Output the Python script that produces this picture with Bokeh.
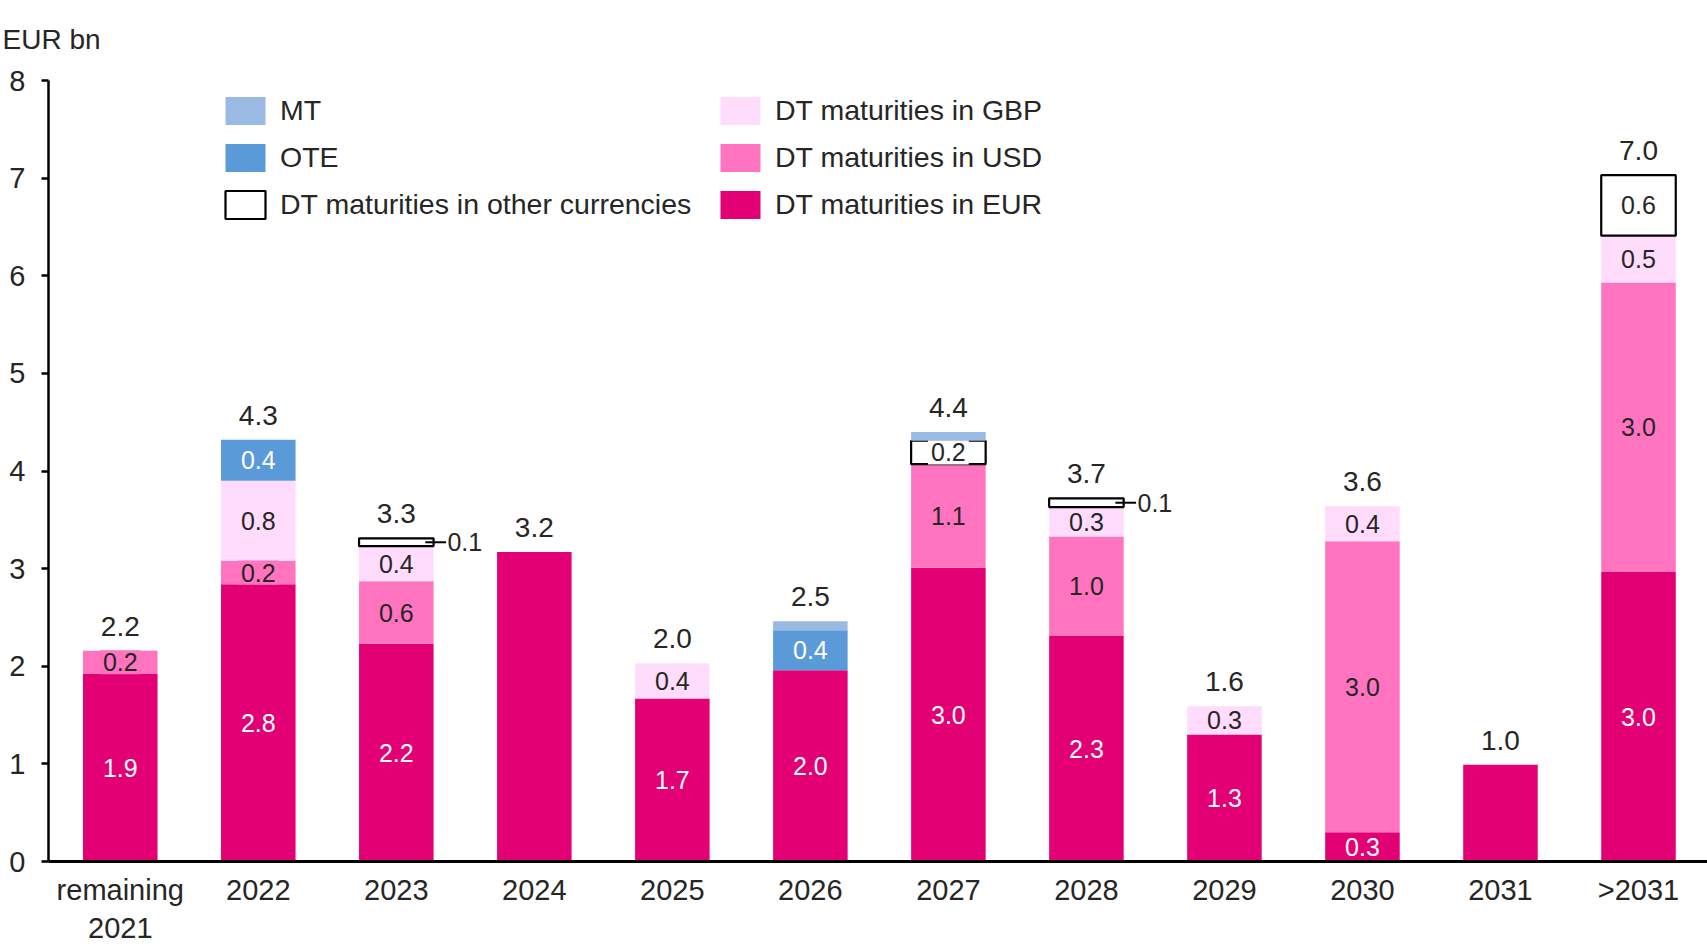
from bokeh.plotting import figure
from bokeh.models import Range1d, FixedTicker, Legend, LegendItem, ColumnDataSource
from bokeh.embed import file_html
from bokeh.resources import INLINE
from bokeh.core.properties import value

# ---------------- data (EUR bn) ----------------
categories = ["remaining\n2021", "2022", "2023", "2024", "2025", "2026",
              "2027", "2028", "2029", "2030", "2031", ">2031"]
eur   = [1.92, 2.84, 2.23, 3.17, 1.67, 1.96, 3.01, 2.31, 1.30, 0.30, 0.99, 2.97]
usd   = [0.24, 0.24, 0.64, 0.00, 0.00, 0.00, 1.06, 1.02, 0.00, 2.98, 0.00, 2.96]
gbp   = [0.00, 0.82, 0.36, 0.00, 0.36, 0.00, 0.00, 0.30, 0.29, 0.36, 0.00, 0.48]
other = [0.00, 0.00, 0.08, 0.00, 0.00, 0.00, 0.24, 0.09, 0.00, 0.00, 0.00, 0.62]
ote   = [0.00, 0.42, 0.00, 0.00, 0.00, 0.41, 0.00, 0.00, 0.00, 0.00, 0.00, 0.00]
mt    = [0.00, 0.00, 0.00, 0.00, 0.00, 0.09, 0.09, 0.00, 0.00, 0.00, 0.00, 0.00]

series_names = ["DT maturities in EUR", "DT maturities in USD", "DT maturities in GBP",
                "DT maturities in other currencies", "OTE", "MT"]
series_vals = [eur, usd, gbp, other, ote, mt]
unit_label = "EUR bn"

# ---------------- styles ----------------
FONT = "Liberation Sans"
TXT = "#262626"
fills = ["#e20074", "#ff73bf", "#ffdcfb", "#ffffff", "#5b9ad8", "#99bbe3"]
lines = [None, None, None, "#000000", None, None]
label_colors = ["#ffffff", TXT, TXT, TXT, "#ffffff", None]
BAR_W = 0.54

p = figure(width=1707, height=946, output_backend="svg", toolbar_location=None,
           title=unit_label,
           x_range=Range1d(-0.52, 11.50), y_range=Range1d(0, 8),
           min_border_left=48, min_border_right=0, min_border_top=80, min_border_bottom=84)
p.title.align = "left"
p.title.vertical_align = "top"
p.title.offset = -46
p.title.standoff = 47
p.title.text_font = FONT
p.title.text_font_size = "28px"
p.title.text_font_style = "normal"
p.title.text_color = TXT
p.outline_line_color = None
p.xgrid.visible = False
p.ygrid.visible = False

n = len(categories)
xs = list(range(n))
bottoms = [0.0] * n
renderers = {}
in_x, in_y, in_t, in_c, in_bg = [], [], [], [], []
out_x, out_y, out_t = [], [], []
lead_x0, lead_x1, lead_y = [], [], []
nseg = [sum(1 for s in series_vals if s[i] > 0) for i in range(n)]

for k, (name, vals) in enumerate(zip(series_names, series_vals)):
    idx = [i for i in range(n) if vals[i] > 0]
    src = ColumnDataSource(dict(x=[xs[i] for i in idx],
                                bottom=[bottoms[i] for i in idx],
                                top=[bottoms[i] + vals[i] for i in idx]))
    r = p.vbar(x="x", width=BAR_W, bottom="bottom", top="top", source=src,
               fill_color=fills[k], line_color=lines[k], line_width=2.2 if lines[k] else 0)
    renderers[name] = r
    for i in idx:
        mid = bottoms[i] + vals[i] / 2
        if label_colors[k] is not None and nseg[i] > 1:
            if vals[i] < 0.15:
                out_x.append(xs[i] + BAR_W / 2 + 0.10)
                out_y.append(mid)
                out_t.append(f"{vals[i]:.1f}")
                lead_x0.append(xs[i] + BAR_W / 2 - 0.06)
                lead_x1.append(xs[i] + BAR_W / 2 + 0.09)
                lead_y.append(mid)
            else:
                in_x.append(xs[i]); in_y.append(mid)
                in_t.append(f"{vals[i]:.1f}")
                in_c.append(label_colors[k]); in_bg.append(fills[k])
        bottoms[i] += vals[i]

totals = bottoms[:]

# inner value labels
p.text(x=in_x, y=in_y, text=in_t, text_color=in_c, background_fill_color=in_bg,
       padding=3, text_align="center", text_baseline="middle",
       text_font=value(FONT), text_font_size="25px")
# outside labels with leader lines
p.segment(x0=lead_x0, y0=lead_y, x1=lead_x1, y1=lead_y, line_color="#000000", line_width=2)
p.text(x=out_x, y=out_y, text=out_t, text_color=TXT, text_align="left", text_baseline="middle",
       text_font=value(FONT), text_font_size="25px")
# totals
p.text(x=xs, y=[t + 0.25 for t in totals], text=[f"{t:.1f}" for t in totals],
       text_color=TXT, text_align="center", text_baseline="middle",
       text_font=value(FONT), text_font_size="28px")

# axes
p.yaxis.ticker = FixedTicker(ticks=list(range(9)))
p.yaxis.major_label_text_font = FONT
p.yaxis.major_label_text_font_size = "29px"
p.yaxis.major_label_text_color = TXT
p.yaxis.major_tick_out = 7
p.yaxis.major_tick_in = 0
p.yaxis.minor_tick_line_color = None
p.yaxis.axis_line_width = 2.5
p.yaxis.major_tick_line_width = 2.5
p.yaxis.major_label_standoff = 16

p.xaxis.ticker = FixedTicker(ticks=xs)
p.xaxis.major_label_overrides = {i: c for i, c in enumerate(categories)}
p.xaxis.major_label_text_font = FONT
p.xaxis.major_label_text_font_size = "29px"
p.xaxis.major_label_text_color = TXT
p.xaxis.major_tick_line_color = None
p.xaxis.minor_tick_line_color = None
p.xaxis.axis_line_width = 3
p.xaxis.major_label_standoff = 6

# legends (two columns)
def make_legend(names, loc):
    lg = Legend(items=[LegendItem(label=nm, renderers=[renderers[nm]]) for nm in names],
                location=loc, orientation="vertical", padding=0, margin=0,
                spacing=12, glyph_width=50, glyph_height=35, label_standoff=10,
                label_text_font=FONT, label_text_font_size="28.5px", label_text_color=TXT,
                border_line_color=None, background_fill_alpha=0)
    p.add_layout(lg, "center")

make_legend(["MT", "OTE", "DT maturities in other currencies"], (172, 639))
make_legend(["DT maturities in GBP", "DT maturities in USD", "DT maturities in EUR"], (667, 639))

open("out.html", "w").write(file_html(p, INLINE))
